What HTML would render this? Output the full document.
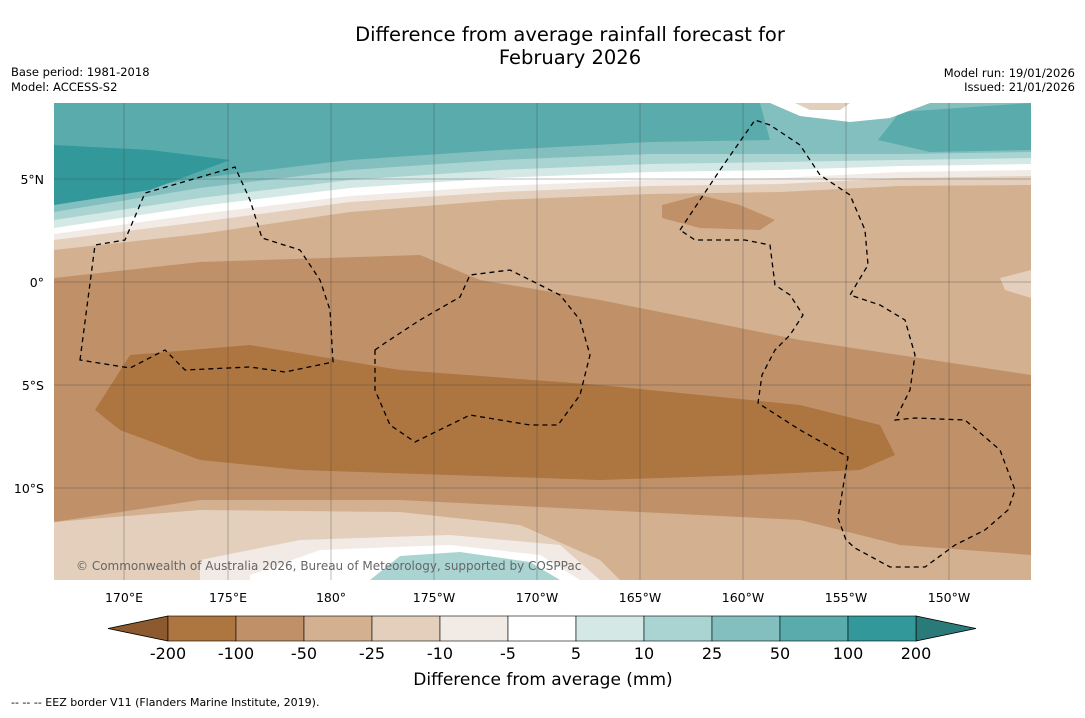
<!DOCTYPE html>
<html><head><meta charset="utf-8"><style>
body{margin:0;width:1085px;height:713px;background:#fff;font-family:"Liberation Sans","DejaVu Sans",sans-serif;overflow:hidden}
svg text{font-family:"DejaVu Sans","Liberation Sans",sans-serif}
</style></head><body>
<svg id="chart" width="1085" height="713">
<text x="570" y="41" font-size="19.5" text-anchor="middle">Difference from average rainfall forecast for</text>
<text x="570" y="64" font-size="19.5" text-anchor="middle">February 2026</text>
<text x="11" y="76" font-size="11.5">Base period: 1981-2018</text>
<text x="11" y="91" font-size="11.5">Model: ACCESS-S2</text>
<text x="1075" y="77" font-size="11.5" text-anchor="end">Model run: 19/01/2026</text>
<text x="1075" y="91" font-size="11.5" text-anchor="end">Issued: 21/01/2026</text>
<defs><clipPath id="mc"><rect x="54" y="103" width="977" height="477"/></clipPath></defs>
<g clip-path="url(#mc)">
<rect x="54" y="103" width="977" height="477" fill="#d3b08f"/>
<path d="M54,103 L1031,103 L1031,185 L900,186 L780,192 L650,194 L500,200 L350,212 L200,234 L54,250 Z" fill="#e3cfbc"/>
<path d="M54,103 L1031,103 L1031,176 L900,178 L780,184 L650,186 L500,192 L350,202 L200,222 L54,240 Z" fill="#f2ebe5"/>
<path d="M54,103 L1031,103 L1031,170 L900,172 L780,178 L650,180 L500,186 L350,196 L200,214 L54,234 Z" fill="#fff"/>
<path d="M54,103 L1031,103 L1031,164 L900,166 L780,170 L650,172 L500,178 L350,188 L200,206 L54,228 Z" fill="#d4e8e6"/>
<path d="M54,103 L1031,103 L1031,158 L900,160 L780,162 L650,164 L500,170 L350,180 L200,198 L54,220 Z" fill="#a9d4d2"/>
<path d="M54,103 L1031,103 L1031,152 L900,154 L780,154 L650,154 L500,160 L350,170 L200,188 L54,212 Z" fill="#82bfbe"/>
<path d="M54,103 L760,103 L770,140 L650,142 L500,150 L350,160 L200,178 L54,202 Z" fill="#5aabab"/>
<path d="M878,140 L900,112 L1031,103 L1031,150 L930,152 Z" fill="#5aabab"/>
<path d="M54,145 L150,150 L230,160 L150,190 L54,205 Z" fill="#32989a"/>
<path d="M770,103 L930,103 L890,118 L850,122 L800,116 Z" fill="#fff"/>
<path d="M795,103 L850,103 L840,110 L810,110 Z" fill="#e3cfbc"/>
<path d="M1031,270 L1000,278 L1005,290 L1031,298 Z" fill="#e3cfbc"/>
<path d="M54,278 L200,262 L420,255 L480,280 L600,300 L800,340 L1031,375 L1031,555 L900,545 L800,520 L600,510 L400,500 L200,500 L54,522 Z" fill="#c09168"/>
<path d="M662,205 L700,195 L740,205 L775,220 L760,230 L700,228 L662,218 Z" fill="#c09168"/>
<path d="M95,410 L130,355 L250,345 L400,370 L600,385 L800,405 L880,425 L895,455 L860,470 L750,475 L600,480 L450,475 L300,470 L200,460 L120,430 Z" fill="#ad7540"/>
<path d="M54,522 L200,510 L400,512 L520,525 L600,560 L620,580 L54,580 Z" fill="#e3cfbc"/>
<path d="M200,560 L300,540 L450,535 L560,545 L600,580 L200,580 Z" fill="#f2ebe5"/>
<path d="M250,575 L320,550 L450,545 L540,555 L580,580 L250,580 Z" fill="#fff"/>
<path d="M370,580 L400,556 L460,552 L530,562 L560,580 Z" fill="#a9d4d2"/>
<g stroke="#444" stroke-width="0.5" stroke-opacity="0.7">
<line x1="124" y1="103" x2="124" y2="580"/><line x1="228" y1="103" x2="228" y2="580"/><line x1="331" y1="103" x2="331" y2="580"/><line x1="434" y1="103" x2="434" y2="580"/><line x1="537" y1="103" x2="537" y2="580"/><line x1="640" y1="103" x2="640" y2="580"/><line x1="743" y1="103" x2="743" y2="580"/><line x1="846" y1="103" x2="846" y2="580"/><line x1="949" y1="103" x2="949" y2="580"/>
<line x1="54" y1="179" x2="1031" y2="179"/><line x1="54" y1="282" x2="1031" y2="282"/><line x1="54" y1="385" x2="1031" y2="385"/><line x1="54" y1="488" x2="1031" y2="488"/>
</g>
<g fill="none" stroke="#000" stroke-width="1.3" stroke-dasharray="5,4">
<path d="M80,360 L95,245 L125,240 L145,193 L235,167 L250,200 L262,238 L300,250 L320,280 L330,310 L333,362 L285,372 L250,367 L185,370 L165,350 L130,368 Z"/>
<path d="M375,350 L385,343 L420,320 L460,297 L470,275 L510,270 L560,295 L580,320 L590,355 L580,395 L558,425 L530,425 L470,415 L415,442 L390,425 L375,390 Z"/>
<path d="M680,230 L720,170 L755,120 L770,125 L800,145 L820,175 L850,195 L865,230 L868,265 L850,295 L880,305 L905,320 L915,355 L910,390 L895,420 L915,418 L965,420 L1000,450 L1015,490 L1008,510 L985,530 L955,545 L925,567 L890,567 L855,548 L846,540 L838,518 L848,457 L800,430 L758,403 L762,375 L775,350 L790,335 L803,315 L790,295 L775,285 L770,245 L745,240 L695,240 Z"/>
</g>
<text x="76" y="570" font-size="12" fill="#666">© Commonwealth of Australia 2026, Bureau of Meteorology, supported by COSPPac</text>
</g>
<g font-size="12.5" text-anchor="middle">
<text x="124" y="602">170°E</text><text x="228" y="602">175°E</text><text x="331" y="602">180°</text><text x="434" y="602">175°W</text><text x="537" y="602">170°W</text><text x="640" y="602">165°W</text><text x="743" y="602">160°W</text><text x="846" y="602">155°W</text><text x="949" y="602">150°W</text>
</g>
<g font-size="12.5" text-anchor="end">
<text x="44" y="184">5°N</text><text x="44" y="287">0°</text><text x="44" y="390">5°S</text><text x="44" y="493">10°S</text>
</g>
<g id="cbar"></g>
<text x="543" y="685" font-size="17" text-anchor="middle">Difference from average (mm)</text>
<text x="11" y="706" font-size="11">--  --  -- EEZ border V11 (Flanders Marine Institute, 2019).</text>
</svg>
<script>
const levels=["-200","-100","-50","-25","-10","-5","5","10","25","50","100","200"];
const colors=["#ad7540","#c09168","#d3b08f","#e3cfbc","#f2ebe5","#ffffff","#d4e8e6","#a9d4d2","#82bfbe","#5aabab","#32989a"];
const extendColors=["#8c5a2e","#2a7a7a"];
const g=document.getElementById('cbar');const ns='http://www.w3.org/2000/svg';
const x0=168,w=68,y0=616,h=25;
function mk(t,a){const e=document.createElementNS(ns,t);for(const k in a)e.setAttribute(k,a[k]);g.appendChild(e);return e;}
let l=mk('polygon',{points:`${x0},${y0} ${x0},${y0+h} 108,${y0+h/2}`,fill:extendColors[0],stroke:'#000','stroke-width':0.8});


const xe=x0+w*colors.length;
let r=mk('polygon',{points:`${xe},${y0} ${xe},${y0+h} 976,${y0+h/2}`,fill:extendColors[1],stroke:'#000','stroke-width':0.8});


colors.forEach((c,i)=>{const e=mk('rect',{x:x0+i*w,y:y0,width:w,height:h,fill:c,stroke:'#000','stroke-width':0.6});

});
levels.forEach((v,i)=>{const t=mk('text',{x:x0+i*w,y:659,'font-size':16,'text-anchor':'middle'});t.textContent=v;

});
</script>
</body></html>
